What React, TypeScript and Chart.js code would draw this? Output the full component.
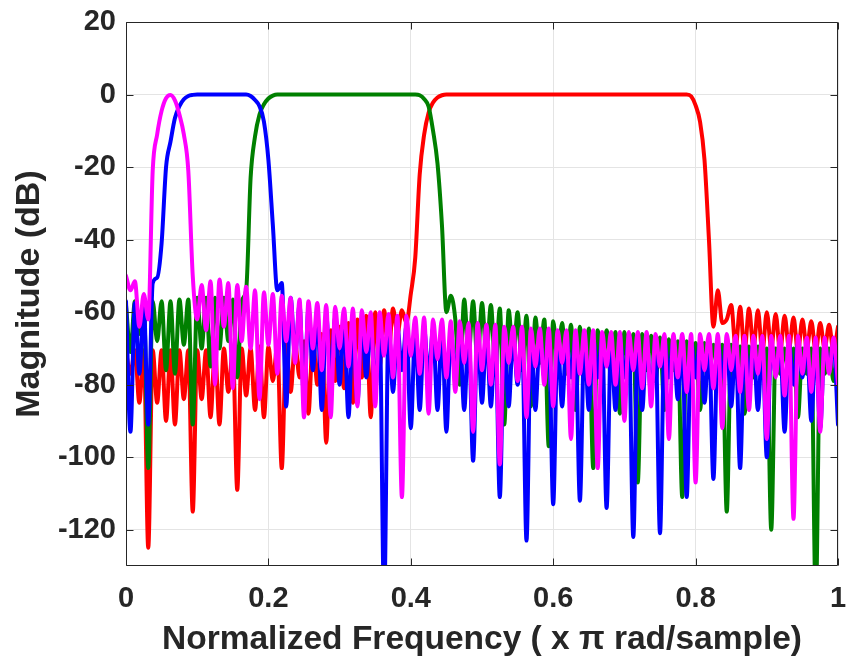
import React, { useEffect, useRef } from "react";
import { Chart, registerables } from "chart.js";

Chart.register(...registerables);

// Frequency sampling grid (normalized frequency, x pi rad/sample), step 1/160
const FREQ: number[] = Array.from({ length: 161 }, (_, i) => i / 160);

const X_TICKS = [0, 0.2, 0.4, 0.6, 0.8, 1];
const X_TICK_LABELS = ["0", "0.2", "0.4", "0.6", "0.8", "1"];
const Y_TICKS = [20, 0, -20, -40, -60, -80, -100, -120];
const Y_TICK_LABELS = ["20", "0", "-20", "-40", "-60", "-80", "-100", "-120"];

const X_TITLE = "Normalized Frequency ( x \u03c0 rad/sample)";
const Y_TITLE = "Magnitude (dB)";

// Magnitude responses in dB at each FREQ sample
const MAGENTA_DB: number[] = [
  -50, -54, -51.5, -64, -55, -62, -21, -11, -4.5, -1,
  -0.1, -1.6, -5.5, -11, -21, -50, -62, -52.5, -65, -51.5,
  -80, -51, -64, -52, -81, -52.5, -68, -53, -70, -54,
  -84, -54.5, -69, -55, -77, -55.5, -68, -56, -74, -56.5,
  -89, -57, -70, -57.5, -76, -58, -89, -58.5, -70, -59,
  -75, -59, -86, -59.5, -71, -60, -86, -60, -72, -60.5,
  -78, -61, -111, -61, -72, -61.5, -77, -61.5, -88, -62,
  -73, -62, -78, -62.5, -82, -62.5, -74, -63, -93, -63,
  -76, -63.5, -80, -63.5, -102, -64, -74, -64, -79, -64,
  -89, -64.5, -75, -64.5, -80, -64.5, -86, -65, -74, -65,
  -95, -65, -77, -65, -80, -65, -103, -65.5, -75, -65.5,
  -80, -65.5, -90, -65.5, -76, -65.5, -81, -65.5, -86, -66,
  -75, -66, -95, -66, -78, -66, -82, -66, -107, -66,
  -76, -66, -81, -66, -92, -66, -76, -66.5, -82, -66.5,
  -87, -66.5, -77, -66.5, -95, -66.5, -78, -66.5, -83, -66.5,
  -117, -66.5, -77, -67, -82, -67, -93, -67, -77, -67,
  -80,
];

const BLUE_DB: number[] = [
  -57, -93, -57.5, -77, -58, -91, -52, -50.5, -41, -20,
  -13, -6.5, -3.2, -1.3, -0.4, -0.1, 0, 0, 0, 0,
  0, 0, 0, 0, 0, 0, 0, 0, -0.4, -1.5,
  -3.2, -7.5, -18, -36, -54, -52, -86, -56, -72, -58,
  -84, -59, -76, -60, -87, -61, -78, -61.5, -80, -62,
  -89, -62.5, -85, -63, -78, -63, -82, -63.5, -140, -63.5,
  -82, -64, -76, -64, -92, -64, -87, -64.5, -78, -64.5,
  -87, -64.5, -93, -65, -78, -65, -87, -65, -101, -65.5,
  -85, -65.5, -86, -65.5, -111, -66, -86, -66, -80, -66,
  -123, -66.5, -87, -66.5, -78, -66.5, -113, -66.5, -86, -67,
  -78, -67, -112, -67, -87, -67, -78, -67, -114, -67.5,
  -87, -67.5, -78, -67.5, -122, -67.5, -87, -67.5, -83, -67.5,
  -121, -68, -78, -68, -84, -68, -111, -68, -78, -68,
  -85, -68, -106, -68, -78, -68, -86, -68, -103, -68.5,
  -78, -68.5, -87, -68.5, -100, -68.5, -77, -68.5, -93, -68.5,
  -80, -68.5, -78, -68.5, -90, -68.5, -92, -68.5, -76, -68.5,
  -91,
];

const GREEN_DB: number[] = [
  -58, -71, -57, -66, -57.5, -103, -57, -68, -57, -76,
  -57, -77, -56.5, -69, -56.5, -91, -56, -70, -56, -75,
  -56, -70, -56, -68, -56.5, -78, -57, -54, -23, -11.5,
  -5.5, -2.7, -1.1, -0.3, 0, 0, 0, 0, 0, 0,
  0, 0, 0, 0, 0, 0, 0, 0, 0, 0,
  0, 0, 0, 0, 0, 0, 0, 0, 0, 0,
  0, 0, 0, 0, 0, 0, -0.2, -1.2, -3.3, -10,
  -19, -36, -60, -55.5, -62, -80, -56.5, -72, -57, -74,
  -57.5, -72, -58, -76, -59, -91, -59.5, -73, -60, -76,
  -61, -86, -61.5, -74, -62, -97, -62.5, -74, -63, -77,
  -63.5, -87, -64, -75, -64.5, -103, -65, -75, -65, -78,
  -65.5, -88, -65.5, -76, -66, -107, -66, -76, -66.5, -79,
  -67, -87, -67.5, -76, -68, -111, -68, -76, -68.5, -87,
  -68.5, -78, -69, -76, -69, -115, -69, -77, -69.5, -88,
  -69.5, -78, -69.5, -76, -70, -120, -70, -77, -70, -79,
  -70, -89, -70, -77, -70, -140, -70, -77, -70, -79,
  -70,
];

const RED_DB: number[] = [
  -71, -77, -70.5, -85, -70.5, -125, -70.5, -85, -70.5, -90,
  -70.5, -91, -70.5, -84, -70.5, -115, -70.5, -84, -70.5, -89,
  -70, -91, -70, -82, -70, -109, -70, -83, -70, -87,
  -69.5, -89, -69.5, -79, -69, -103, -69, -82, -68.5, -78,
  -68, -88, -67, -80, -66, -96, -65, -79, -64, -81,
  -63, -85, -62, -78, -61, -89, -60, -75, -59.5, -72,
  -59, -66, -59.5, -63, -55, -45, -22, -11, -5, -2.2,
  -0.8, -0.2, 0, 0, 0, 0, 0, 0, 0, 0,
  0, 0, 0, 0, 0, 0, 0, 0, 0, 0,
  0, 0, 0, 0, 0, 0, 0, 0, 0, 0,
  0, 0, 0, 0, 0, 0, 0, 0, 0, 0,
  0, 0, 0, 0, 0, 0, 0, 0, 0, 0,
  0, 0, 0, 0, 0, 0, 0, -0.5, -3, -7.5,
  -18, -40, -64, -54, -63, -62, -58, -70, -58.5, -71,
  -59, -70, -59.5, -71, -60, -70, -60.5, -71, -61, -70,
  -61.5, -71, -62, -70, -62.5, -71, -63, -70, -63.5, -71,
  -64,
];

const TEXT_COLOR = "#262626";
const FONT_FAMILY = '"Liberation Sans", Arial, Helvetica, sans-serif';

const framePlugin = {
  id: "axesFrame",
  afterDatasetsDraw(chart: any) {
    const { ctx, chartArea } = chart;
    const { left, right, top, bottom } = chartArea;
    const xs = chart.scales.x;
    const ys = chart.scales.y;
    const L = Math.round(left) + 0.5;
    const R = Math.round(right) - 0.5;
    const T = Math.round(top) + 0.5;
    const B = Math.round(bottom) - 0.5;
    const TL = 7;
    ctx.save();
    ctx.strokeStyle = TEXT_COLOR;
    ctx.lineWidth = 1;
    ctx.beginPath();
    ctx.rect(L, T, R - L, B - T);
    X_TICKS.forEach((v) => {
      const p = Math.round(xs.getPixelForValue(v)) + 0.5;
      ctx.moveTo(p, B);
      ctx.lineTo(p, B - TL);
      ctx.moveTo(p, T);
      ctx.lineTo(p, T + TL);
    });
    Y_TICKS.forEach((v) => {
      const p = Math.round(ys.getPixelForValue(v)) + 0.5;
      ctx.moveTo(L, p);
      ctx.lineTo(L + TL, p);
      ctx.moveTo(R, p);
      ctx.lineTo(R - TL, p);
    });
    ctx.stroke();
    ctx.restore();
  },
};

export default function App() {
  const ref = useRef<HTMLCanvasElement | null>(null);

  useEffect(() => {
    const canvas = ref.current;
    if (!canvas) return;
    const toPts = (arr: number[]) => arr.map((v, i) => ({ x: FREQ[i], y: v }));
    const common = {
      borderWidth: 4,
      pointRadius: 0,
      pointHoverRadius: 0,
      fill: false,
      cubicInterpolationMode: "monotone" as const,
      borderJoinStyle: "round" as const,
      borderCapStyle: "round" as const,
      clip: 0,
    };
    const chart = new Chart(canvas, {
      type: "line",
      data: {
        datasets: [
          { label: "magenta", data: toPts(MAGENTA_DB), borderColor: "#ff00ff", ...common },
          { label: "blue", data: toPts(BLUE_DB), borderColor: "#0000ff", ...common },
          { label: "green", data: toPts(GREEN_DB), borderColor: "#008000", ...common },
          { label: "red", data: toPts(RED_DB), borderColor: "#ff0000", ...common },
        ],
      },
      options: {
        animation: false,
        responsive: false,
        devicePixelRatio: 1,
        layout: { padding: { left: 0, right: 9, top: 22, bottom: 0 } },
        plugins: {
          legend: { display: false },
          tooltip: { enabled: false },
        },
        events: [],
        scales: {
          x: {
            type: "linear",
            min: 0,
            max: 1,
            afterBuildTicks: (s: any) => {
              s.ticks = X_TICKS.map((v) => ({ value: v }));
            },
            afterFit: (s: any) => {
              s.height = 98;
              s.paddingLeft = 0;
              s.paddingRight = 0;
            },
            grid: { color: "#e4e4e4", lineWidth: 1, drawTicks: false },
            border: { display: false },
            ticks: {
              padding: 16,
              color: TEXT_COLOR,
              autoSkip: false,
              maxRotation: 0,
              font: { family: FONT_FAMILY, size: 29, weight: "bold" },
              callback: (_v: any, i: number) => X_TICK_LABELS[i],
            },
            title: {
              display: true,
              text: X_TITLE,
              color: TEXT_COLOR,
              font: { family: FONT_FAMILY, size: 33.5, weight: "bold" },
              padding: { top: 0, bottom: 4 },
            },
          },
          y: {
            type: "linear",
            min: -130,
            max: 20,
            afterBuildTicks: (s: any) => {
              s.ticks = Y_TICKS.map((v) => ({ value: v }));
            },
            afterFit: (s: any) => {
              s.width = 126;
              s.paddingTop = 0;
              s.paddingBottom = 0;
            },
            grid: { color: "#e4e4e4", lineWidth: 1, drawTicks: false },
            border: { display: false },
            ticks: {
              padding: 10,
              color: TEXT_COLOR,
              autoSkip: false,
              font: { family: FONT_FAMILY, size: 29, weight: "bold" },
              callback: (_v: any, i: number) => Y_TICK_LABELS[i],
            },
            title: {
              display: true,
              text: Y_TITLE,
              color: TEXT_COLOR,
              font: { family: FONT_FAMILY, size: 34, weight: "bold" },
              padding: { top: 9, bottom: 0 },
            },
          },
        },
      },
      plugins: [framePlugin],
    });
    return () => chart.destroy();
  }, []);

  return (
    <div style={{ position: "absolute", left: 0, top: 0, width: 847, height: 664 }}>
      <canvas ref={ref} width={847} height={664} style={{ display: "block" }} />
    </div>
  );
}
